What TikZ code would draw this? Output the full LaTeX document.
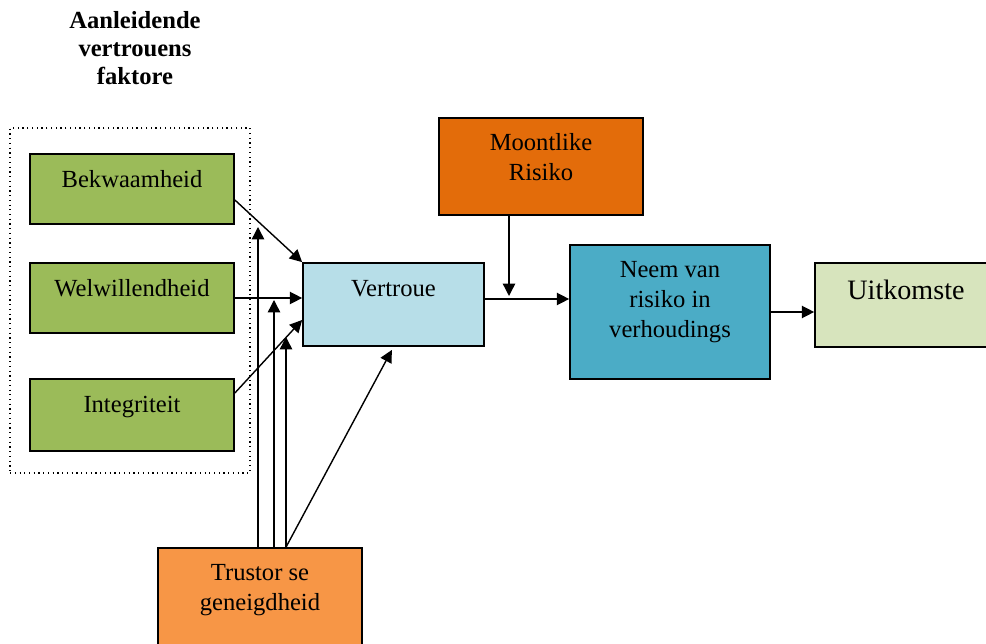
\documentclass[tikz,border=0pt]{standalone}
\usepackage{fontspec}
\setmainfont{Liberation Serif}
\usetikzlibrary{arrows.meta}
\definecolor{faktor}{HTML}{9BBB59}
\definecolor{vertrou}{HTML}{B7DEE8}
\definecolor{risiko}{HTML}{E36C0A}
\definecolor{neem}{HTML}{4BACC6}
\definecolor{uitkoms}{HTML}{D7E4BD}
\definecolor{trustor}{HTML}{F79646}

\begin{document}
\begin{tikzpicture}[x=0.02cm,y=-0.02cm,>={Triangle[length=7pt,width=7pt]},
		font=\fontsize{14}{17}\selectfont,
		box/.style={draw,line width=1pt,inner sep=0pt},
		txt/.style={anchor=base,align=center,inner sep=0pt},
		arr/.style={->,line width=0.8pt}]
	\useasboundingbox (0,0) rectangle (986,644);
	% titel, basislyn van laaste reel
	\node[txt,font=\fontsize{14}{16}\selectfont\bfseries] (titel) at (135,85) {Aanleidende\\vertrouens\\faktore};
	\node[draw,dotted,line width=0.7pt,minimum width=4.8cm,minimum height=6.9cm] (groep) at (130,300.5) {};
	% faktore
	\node[box,fill=faktor,minimum width=4.08cm,minimum height=1.4cm] (bek) at (132,189) {};
	\node[box,fill=faktor,minimum width=4.08cm,minimum height=1.4cm] (wel) at (132,298) {};
	\node[box,fill=faktor,minimum width=4.08cm,minimum height=1.44cm] (integ) at (132,415) {};
	\node[txt] (bektxt) at ([yshift=-0.68cm]bek.north) {Bekwaamheid};
	\node[txt] (weltxt) at ([yshift=-0.69cm]wel.north) {Welwillendheid};
	\node[txt] (integtxt) at ([yshift=-0.69cm]integ.north) {Integriteit};
	% middel en regs
	\node[box,fill=vertrou,minimum width=3.62cm,minimum height=1.66cm] (vertroue) at (393.5,304.5) {};
	\node[box,fill=risiko,minimum width=4.08cm,minimum height=1.94cm] (moont) at (541,166.5) {};
	\node[box,fill=neem,minimum width=4cm,minimum height=2.68cm] (neem) at (670,312) {};
	\node[box,fill=uitkoms,minimum width=3.64cm,minimum height=1.68cm] (uit) at (906,305) {};
	\node[box,fill=trustor,minimum width=4.08cm,minimum height=2.24cm] (trust) at (260,604) {};
	\node[txt] (vertrouetxt) at ([yshift=-0.69cm]vertroue.north) {Vertroue};
	\node[txt] (moonttxt) at ([yshift=-1.27cm]moont.north) {Moontlike\\Risiko};
	\node[txt] (neemtxt) at ([yshift=-1.86cm]neem.north) {Neem van\\risiko in\\verhoudings};
	\node[txt,font=\fontsize{16}{19}\selectfont] (uittxt) at ([yshift=-0.74cm]uit.north) {Uitkomste};
	\node[txt] (trusttxt) at ([yshift=-1.27cm]trust.north) {Trustor se\\geneigdheid};
	% pyle
	\coordinate (p1) at (258,227);
	\coordinate (p2) at (274,300);
	\coordinate (p3) at (286,337);
	\coordinate (r) at (509,296);
	\draw[arr] ([yshift=-0.22cm]bek.east) -- (vertroue.north west);
	\draw[arr] (wel.east) -- (vertroue.west |- wel.east);
	\draw[arr] ([yshift=0.44cm]integ.east) -- ([yshift=-0.31cm]vertroue.west);
	\draw[arr] (trust.north -| p1) -- (p1);
	\draw[arr] (trust.north -| p2) -- (p2);
	\draw[arr] (trust.north -| p3) -- (p3);
	\draw[arr,shorten >=2pt] (trust.north -| p3) -- (vertroue.south);
	\draw[arr] (moont.south -| r) -- (r);
	\draw[arr] ([yshift=0.11cm]vertroue.east) -- ([yshift=0.11cm]vertroue.east -| neem.west);
	\draw[arr] (neem.east) -- (neem.east -| uit.west);
\end{tikzpicture}
\end{document}
